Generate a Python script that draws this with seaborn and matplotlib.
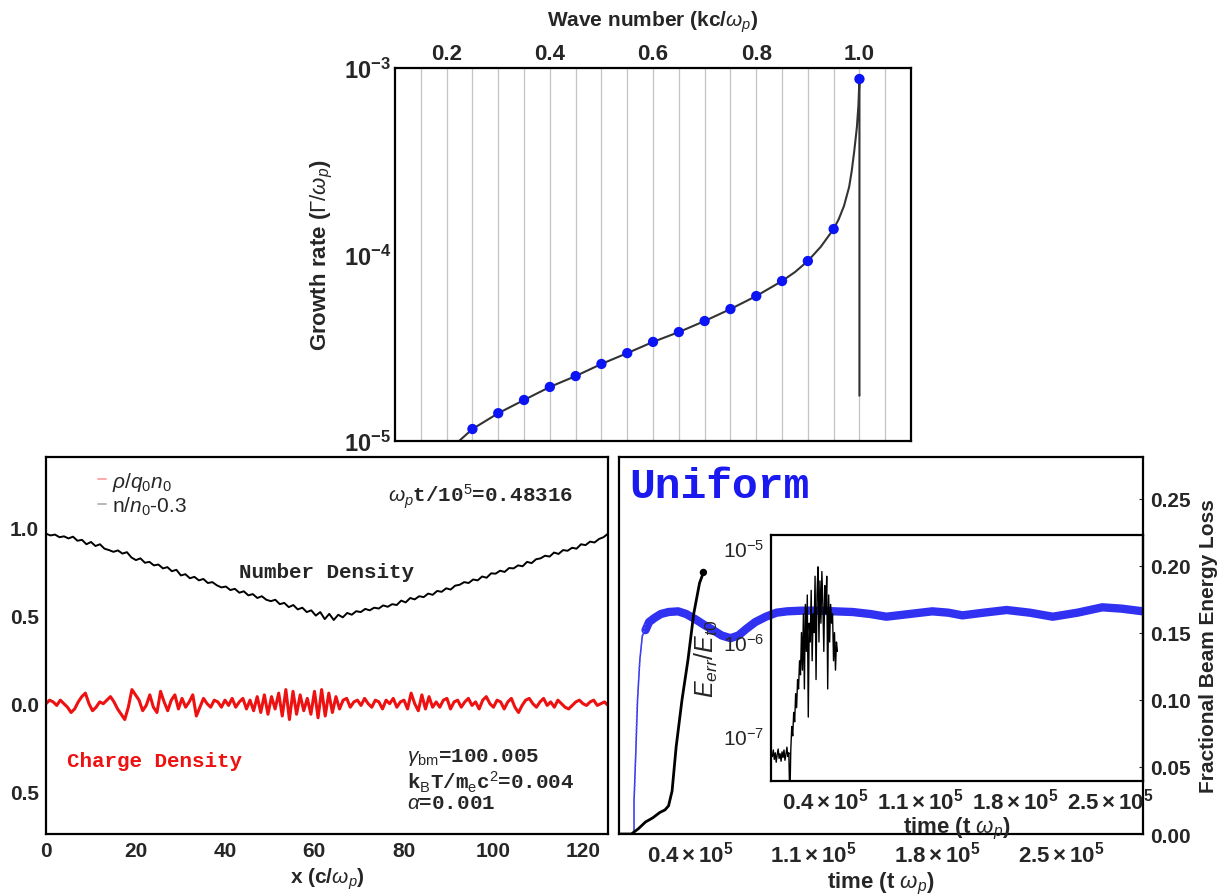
import numpy as np
import matplotlib
matplotlib.use('Agg')
import matplotlib.pyplot as plt
from matplotlib.lines import Line2D
import seaborn as sns

# --- top panel: growth rate vs wave number ---
k_pts = [0.25, 0.30, 0.35, 0.40, 0.45, 0.50, 0.55, 0.60, 0.65, 0.70,
         0.75, 0.80, 0.85, 0.90, 0.95, 1.00]
gamma_pts = [1.16e-5, 1.41e-5, 1.66e-5, 1.95e-5, 2.23e-5, 2.59e-5, 2.96e-5, 3.40e-5,
             3.84e-5, 4.40e-5, 5.10e-5, 5.99e-5, 7.21e-5, 9.23e-5, 1.37e-4, 8.73e-4]
k_curve = [0.215, 0.25, 0.30, 0.35, 0.40, 0.45, 0.50, 0.55, 0.60, 0.65, 0.70, 0.75,
           0.80, 0.85, 0.875, 0.90, 0.925, 0.95, 0.96, 0.97, 0.98, 0.985, 0.99,
           0.995, 0.998, 1.0, 1.0]
gamma_curve = [9.5e-6, 1.16e-5, 1.41e-5, 1.66e-5, 1.95e-5, 2.23e-5, 2.59e-5, 2.96e-5,
               3.40e-5, 3.84e-5, 4.40e-5, 5.10e-5, 5.99e-5, 7.21e-5, 8.05e-5, 9.23e-5,
               1.10e-4, 1.37e-4, 1.55e-4, 1.82e-4, 2.30e-4, 2.80e-4, 3.60e-4,
               4.80e-4, 6.30e-4, 8.73e-4, 1.75e-5]
k_ticks = [0.2, 0.4, 0.6, 0.8, 1.0]

# --- bottom left: densities along x ---
box_len = 125.66
number_density = [
    0.965, 0.955, 0.960, 0.945, 0.950, 0.938, 0.948, 0.925, 0.930, 0.905,
    0.918, 0.895, 0.905, 0.880, 0.872, 0.862, 0.870, 0.852, 0.860, 0.830,
    0.815, 0.825, 0.800, 0.805, 0.785, 0.790, 0.768, 0.775, 0.752, 0.760,
    0.728, 0.735, 0.712, 0.720, 0.700, 0.708, 0.685, 0.690, 0.672, 0.660,
    0.665, 0.645, 0.652, 0.630, 0.638, 0.615, 0.622, 0.600, 0.610, 0.590,
    0.582, 0.590, 0.565, 0.572, 0.548, 0.560, 0.535, 0.545, 0.520, 0.530,
    0.500, 0.520, 0.480, 0.510, 0.475, 0.505, 0.490, 0.515, 0.505, 0.525,
    0.520, 0.538, 0.530, 0.545, 0.540, 0.558, 0.550, 0.565, 0.560, 0.585,
    0.575, 0.600, 0.592, 0.610, 0.605, 0.625, 0.618, 0.640, 0.635, 0.655,
    0.648, 0.670, 0.675, 0.690, 0.685, 0.705, 0.700, 0.722, 0.715, 0.740,
    0.738, 0.755, 0.748, 0.770, 0.768, 0.785, 0.780, 0.805, 0.798, 0.820,
    0.825, 0.840, 0.835, 0.858, 0.850, 0.872, 0.868, 0.885, 0.880, 0.905,
    0.900, 0.920, 0.915, 0.935, 0.945, 0.965]
charge_density = [
    0.00, 0.02, 0.01, -0.01, 0.02, 0.00, -0.02, -0.05, -0.03, 0.01,
    0.04, 0.06, 0.00, -0.04, -0.02, 0.01, 0.00, 0.02, 0.04, 0.01,
    -0.03, -0.06, -0.09, -0.02, 0.08, 0.05, 0.02, -0.04, -0.01, 0.05,
    -0.02, -0.05, 0.07, 0.01, -0.04, 0.02, 0.05, -0.03, 0.03, -0.02,
    0.01, 0.05, -0.07, -0.02, 0.03, 0.00, -0.02, 0.02, 0.01, -0.02,
    0.02, -0.01, 0.03, -0.02, 0.01, 0.03, -0.03, 0.02, -0.04, 0.04,
    -0.05, 0.05, -0.06, 0.04, -0.03, 0.06, -0.07, 0.08, -0.09, 0.07,
    -0.06, 0.05, -0.04, 0.03, -0.06, 0.07, -0.08, 0.08, -0.07, 0.06,
    -0.05, 0.04, -0.03, 0.02, 0.03, -0.02, 0.01, 0.02, -0.01, 0.03,
    0.00, -0.02, 0.02, 0.01, -0.03, 0.02, 0.00, 0.03, -0.02, 0.01,
    0.02, -0.03, 0.06, 0.00, -0.04, 0.05, -0.03, 0.04, -0.02, 0.01,
    -0.02, 0.02, 0.03, -0.03, 0.01, 0.02, -0.02, 0.01, 0.03, -0.01,
    0.01, -0.03, 0.02, 0.04, 0.00, -0.02, 0.02, 0.01, -0.03, 0.01,
    0.03, -0.02, -0.05, -0.01, 0.02, 0.03, 0.00, -0.02, 0.01, 0.03,
    -0.01, 0.01, -0.02, 0.02, 0.00, -0.02, -0.03, -0.01, 0.01, 0.02,
    0.00, -0.01, 0.01, 0.02, -0.01, 0.00, 0.01, -0.01]
x_density = np.linspace(0, box_len, len(number_density))
x_charge = np.linspace(0, box_len, len(charge_density))

# --- bottom right: beam energy loss vs time (units of 1e5 / omega_p) ---
loss_t = [0.0, 0.07, 0.11, 0.15, 0.19, 0.23, 0.26, 0.28, 0.30, 0.323, 0.356, 0.39,
          0.422, 0.455, 0.477]
loss_v = [0.0, 0.0, 0.004, 0.009, 0.012, 0.016, 0.018, 0.021, 0.032, 0.065, 0.10,
          0.13, 0.164, 0.187, 0.195]
onset_t = [0.075, 0.085, 0.085, 0.095, 0.105, 0.118, 0.132, 0.15]
onset_v = [0.0, 0.0, 0.025, 0.06, 0.10, 0.13, 0.148, 0.152]
fan_t = [0.088, 0.10, 0.115, 0.13, 0.15]
fan_v = [0.03, 0.09, 0.125, 0.145, 0.157]
blue_t = [0.15, 0.17, 0.20, 0.236, 0.28, 0.334, 0.38, 0.433, 0.48, 0.532, 0.58, 0.63,
          0.675, 0.72, 0.77, 0.83, 0.89, 0.95, 1.03, 1.12, 1.22, 1.32, 1.42, 1.51,
          1.64, 1.77, 1.86, 1.94, 2.06, 2.19, 2.32, 2.45, 2.59, 2.73, 2.84, 2.96]
blue_v = [0.152, 0.158, 0.161, 0.164, 0.1655, 0.166, 0.164, 0.160, 0.156, 0.152,
          0.148, 0.146, 0.148, 0.153, 0.158, 0.162, 0.165, 0.166, 0.1665, 0.1665,
          0.166, 0.1655, 0.164, 0.162, 0.164, 0.166, 0.165, 0.163, 0.165, 0.167,
          0.165, 0.162, 0.165, 0.169, 0.168, 0.166]
time_ticks = [0.4, 1.1, 1.8, 2.5]
loss_ticks = [0.0, 0.05, 0.10, 0.15, 0.20, 0.25]

# inset: energy error (log10)
err_log = [
    -7.22, -7.15, -7.25, -7.18, -7.28, -7.20, -7.14, -7.24, -7.19, -7.27,
    -7.17, -7.23, -7.15, -7.26, -7.20, -7.12, -7.22, -7.18, -7.70, -7.15,
    -6.90, -7.00, -6.75, -6.85, -6.55, -6.70, -6.40, -6.50, -6.20, -6.35,
    -5.90, -6.30, -5.70, -6.50, -5.60, -6.10, -5.50, -6.80, -5.80, -6.00,
    -5.45, -6.20, -5.70, -5.90, -5.30, -6.40, -5.50, -5.20, -6.00, -5.35,
    -5.80, -5.25, -5.60, -6.10, -5.40, -5.70, -5.30, -6.50, -5.50, -6.00,
    -5.60, -5.80, -5.70, -6.20, -5.90, -6.30, -6.00, -6.10]
err_t = np.linspace(0.01, 0.49, len(err_log))

sns.set_style('white')
plt.rcParams['font.family'] = ['Liberation Sans', 'DejaVu Sans']
plt.rcParams['mathtext.fontset'] = 'custom'
plt.rcParams['mathtext.rm'] = 'Liberation Sans'
plt.rcParams['mathtext.it'] = 'Liberation Sans:italic'
plt.rcParams['mathtext.bf'] = 'Liberation Sans:bold'
plt.rcParams['axes.linewidth'] = 1.6
plt.rcParams['axes.edgecolor'] = 'black'

TICK = 15
mono = ['Liberation Mono', 'DejaVu Sans Mono']
blue = '#1a1af0'

fig = plt.figure(figsize=(12.17, 8.95), dpi=100)
ax_top = fig.add_axes([0.3246, 0.5061, 0.4240, 0.4168])
ax_den = fig.add_axes([0.0378, 0.0670, 0.4618, 0.4212])
ax_loss = fig.add_axes([0.5086, 0.0670, 0.4306, 0.4212])
ax_err = fig.add_axes([0.6335, 0.1263, 0.3053, 0.2749])

# top panel
ax_top.set_yscale('log')
sns.lineplot(x=k_curve, y=gamma_curve, ax=ax_top, color='#333333', lw=1.5,
             estimator=None, sort=False)
sns.scatterplot(x=k_pts, y=gamma_pts, ax=ax_top, color='#0a14f5', s=55,
                edgecolor='none', zorder=5)
ax_top.set_xlim(0.1, 1.1)
ax_top.set_ylim(1e-5, 1e-3)
ax_top.xaxis.tick_top()
ax_top.xaxis.set_label_position('top')
ax_top.set_xticks(k_ticks)
ax_top.set_xticklabels([f'{v:.1f}' for v in k_ticks], fontweight='bold', fontsize=16)
ax_top.set_xticks(np.arange(0.15, 1.06, 0.05), minor=True)
ax_top.grid(True, which='both', axis='x', color='#c4c4c4', lw=0.9)
ax_top.set_yticks([1e-5, 1e-4, 1e-3])
ax_top.set_yticklabels([r'$\mathbf{10^{-5}}$', r'$\mathbf{10^{-4}}$', r'$\mathbf{10^{-3}}$'],
                       fontsize=17)
ax_top.yaxis.set_minor_locator(matplotlib.ticker.NullLocator())
ax_top.tick_params(which='both', length=0, pad=3)
ax_top.set_xlabel(r'Wave number (kc/$\omega_p$)', fontsize=15, fontweight='bold',
                  labelpad=12)
ax_top.set_ylabel(r'Growth rate ($\Gamma/\omega_p$)', fontsize=16, fontweight='bold',
                  labelpad=6)

# bottom left panel
sns.lineplot(x=x_density, y=number_density, ax=ax_den, color='black', lw=1.4,
             estimator=None)
sns.lineplot(x=x_charge, y=charge_density, ax=ax_den, color='#ee1111', lw=2.2,
             estimator=None)
ax_den.set_xlim(0, box_len)
ax_den.set_ylim(-0.74, 1.40)
ax_den.set_xticks([0, 20, 40, 60, 80, 100, 120])
ax_den.set_xticklabels(['0', '20', '40', '60', '80', '100', '120'], fontweight='bold',
                       fontsize=TICK)
ax_den.set_yticks([-0.5, 0.0, 0.5, 1.0])
ax_den.set_yticklabels(['0.5', '0.0', '0.5', '1.0'], fontweight='bold', fontsize=TICK)
ax_den.tick_params(length=3, direction='in', pad=5)
ax_den.set_xlabel(r'x (c/$\omega_p$)', fontsize=TICK, fontweight='bold', labelpad=4)
handles = [Line2D([], [], color='#ff9999', lw=1.2),
           Line2D([], [], color='#aaaaaa', lw=1.2)]
ax_den.legend(handles, [r'$\rho/q_0n_0$', r'n/$n_0$-0.3'], loc='upper left',
              frameon=False, fontsize=15, handlelength=0.4, handletextpad=0.3,
              labelspacing=0.1, borderaxespad=0.2, bbox_to_anchor=(0.07, 1.0))
ax_den.text(76.4, 1.18, r'$\omega_p$t/10$^5$=0.48316', family=mono, fontsize=15,
            ha='left', va='center', fontweight='bold')
ax_den.text(62.8, 0.75, 'Number Density', family=mono, fontsize=15, ha='center',
            va='center', fontweight='bold')
ax_den.text(4.7, -0.32, 'Charge Density', family=mono, fontsize=15, ha='left',
            va='center', color='#ee1111', fontweight='bold')
ax_den.text(80.8, -0.30, r'$\gamma_{\rm bm}$=100.005', family=mono, fontsize=15,
            ha='left', va='center', fontweight='bold')
ax_den.text(80.8, -0.44, r'k$_{\rm B}$T/m$_{\rm e}$c$^2$=0.004', family=mono,
            fontsize=15, ha='left', va='center', fontweight='bold')
ax_den.text(80.8, -0.56, r'$\alpha$=0.001', family=mono, fontsize=15, ha='left',
            va='center', fontweight='bold')

# bottom right panel
sns.lineplot(x=blue_t, y=blue_v, ax=ax_loss, color=blue, lw=6, alpha=0.9,
             estimator=None)
sns.lineplot(x=onset_t, y=onset_v, ax=ax_loss, color='#3030f0', lw=1.1,
             estimator=None, sort=False)
sns.lineplot(x=fan_t, y=fan_v, ax=ax_loss, color='#5a5af5', lw=1.0, ls=':',
             estimator=None)
sns.lineplot(x=loss_t, y=loss_v, ax=ax_loss, color='black', lw=2.0, estimator=None)
sns.scatterplot(x=loss_t[-1:], y=loss_v[-1:], ax=ax_loss, color='black', s=28,
                edgecolor='none', zorder=6)
ax_loss.set_xlim(0, 2.96)
ax_loss.set_ylim(0, 0.281)
ax_loss.yaxis.tick_right()
ax_loss.yaxis.set_label_position('right')
ax_loss.set_yticks(loss_ticks)
ax_loss.set_yticklabels([f'{v:.2f}' for v in loss_ticks], fontweight='bold', fontsize=TICK)
ax_loss.set_xticks(time_ticks)
ax_loss.set_xticklabels([r'$\mathbf{%.1f\times10^5}$' % v for v in time_ticks],
                        fontsize=16)
ax_loss.tick_params(length=3, direction='in', pad=5)
ax_loss.set_xlabel(r'time (t $\omega_p$)', fontsize=16, fontweight='bold', labelpad=2)
ax_loss.set_ylabel('Fractional Beam Energy Loss', fontsize=TICK, fontweight='bold',
                   labelpad=6)
ax_loss.text(0.02, 0.975, 'Uniform', transform=ax_loss.transAxes, family=mono,
             fontsize=31, color=blue, ha='left', va='top', fontweight='bold')

# inset
ax_err.patch.set_alpha(0)
ax_err.set_yscale('log')
sns.lineplot(x=err_t, y=[10 ** v for v in err_log], ax=ax_err, color='black', lw=1.0,
             estimator=None)
ax_err.set_xlim(0.0, 2.74)
ax_err.set_ylim(10 ** -7.48, 10 ** -4.86)
ax_err.set_xticks(time_ticks)
ax_err.set_xticklabels([r'$\mathbf{%.1f\times10^5}$' % v for v in time_ticks],
                       fontsize=16)
ax_err.set_yticks([1e-7, 1e-6, 1e-5])
ax_err.set_yticklabels([r'$10^{-7}$', r'$10^{-6}$', r'$10^{-5}$'], fontsize=TICK)
ax_err.yaxis.set_minor_locator(matplotlib.ticker.NullLocator())
ax_err.tick_params(length=3, direction='in', pad=5)
ax_err.set_xlabel(r'time (t $\omega_p$)', fontsize=16, fontweight='bold', labelpad=1)
ax_err.set_ylabel(r'$E_{err}/E_{t0}$', fontsize=18, labelpad=2)

fig.savefig('out.png', dpi=100)
